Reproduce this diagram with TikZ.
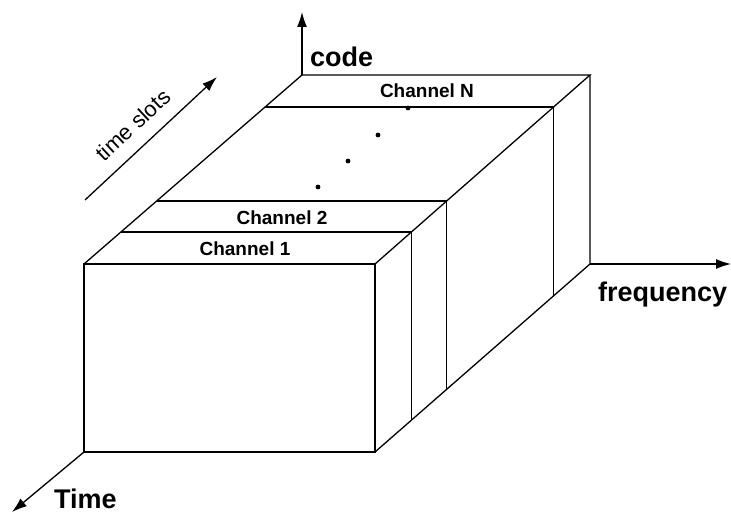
\documentclass[tikz,border=0pt]{standalone}
\usepackage{fontspec}
\setmainfont{Liberation Sans}
\usetikzlibrary{arrows.meta,calc}

\begin{document}
\begin{tikzpicture}[
        x=1pt, y=-1pt,
        % Box edges and axes share one pen.
        edge/.style={line width=1.3pt, line join=miter},
        axis/.style={line width=1.3pt, -{Latex[length=15pt,width=10pt]}},
        axislabel/.style={font=\fontsize{27}{30}\selectfont\bfseries,
            inner sep=0pt, anchor=base west},
        chlabel/.style={font=\fontsize{19}{22}\selectfont\bfseries,
            inner sep=0pt, anchor=base},
        slotdot/.style={circle, fill=black, inner sep=0pt, minimum size=4.8pt}
    ]
        \useasboundingbox (0,0) rectangle (731,513);

        % Corners of the box
        \coordinate (ftl) at (84,264);
        \coordinate (ftr) at (375,264);
        \coordinate (fbl) at (84,452);
        \coordinate (fbr) at (375,452);
        \coordinate (btl) at (302,75);
        \coordinate (btr) at (590,75);
        \coordinate (bbr) at (590,264);

        % Box
        \draw[edge] (ftl) rectangle (fbr);
        \draw[edge] (ftl) -- (btl) -- (btr) -- (ftr);
        \draw[edge] (btr) -- (bbr) -- (fbr);

        % Channel slabs
        \foreach \t in {0.169,0.333,0.83}
            \draw[edge] ($(ftl)!\t!(btl)$) -- ($(ftr)!\t!(btr)$) -- ($(fbr)!\t!(bbr)$);

        \node[chlabel] (ch1) at (245,255) {Channel 1};
        \node[chlabel] (ch2) at (282,225) {Channel 2};
        \node[chlabel] (chN) at (427,98) {Channel N};

        \foreach \i/\p in {1/{(318,187)},2/{(348,161)},3/{(378,135)},4/{(408,108)}}
            \node[slotdot] (dot\i) at \p {};

        % Axes
        \coordinate (codeend) at (302,12);
        \coordinate (freqend) at (731,264);
        \coordinate (timeend) at (12,512);
        \coordinate (slotstart) at (85,200);
        \coordinate (slotend) at (217,77);

        \draw[axis] (btl) -- (codeend);
        \draw[axis] (bbr) -- (freqend);
        \draw[axis] (fbl) -- (timeend);
        \draw[axis] (slotstart) -- (slotend);

        \node[axislabel] (code) at (310,67) {code};
        \node[axislabel] (freq) at (598,301) {frequency};
        \node[axislabel] (time) at (54,508) {Time};
        \node[font=\fontsize{22}{24}\selectfont, rotate=43] (slots) at (133,125) {time slots};
    \end{tikzpicture}
\end{document}
